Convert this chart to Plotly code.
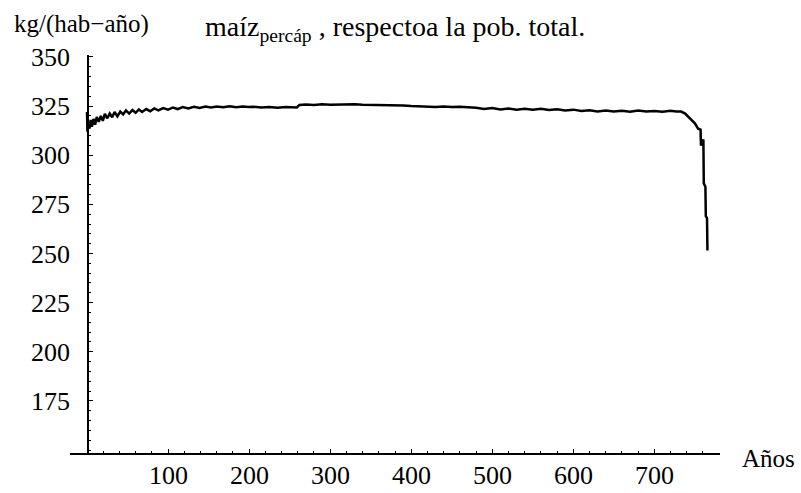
import plotly.graph_objects as go

# Data (year, kg per inhabitant per year)
years_early = [0, 0.5, 1.5, 3, 4.5, 6, 8, 10, 12, 14.5, 17, 19.5, 22, 25, 28, 31, 34, 37.5, 41, 44.5,
               48, 52, 56, 60, 64, 68, 73, 78, 83, 88, 94, 100, 106, 112, 118, 125, 132, 139, 146, 153,
               160, 168, 176, 184, 192, 200]
values_early = [322, 312, 317, 313.5, 318, 314.5, 318.5, 315.5, 319.5, 317, 320, 317.5, 321, 318.8, 321.2, 319.3, 322, 319.8, 322.2, 320.8,
                322.8, 321.2, 323, 321.6, 323.3, 322, 323.5, 322.4, 323.8, 322.8, 324, 323.2, 324.3, 323.5, 324.5, 323.8, 324.6, 324.1, 324.8, 324.3,
                324.8, 324.4, 324.9, 324.4, 324.8, 324.5]

years_mid = [205, 215, 225, 235, 245, 255, 259, 262, 270, 280, 290, 300, 310, 320, 330, 340, 350, 360, 370, 380,
             390, 400, 410, 420, 430, 440, 450, 460, 470, 480, 490, 500, 510, 520, 530, 540, 550, 560, 570, 580,
             590, 600, 610, 620, 630, 640, 650, 660, 670, 680, 690, 700, 710, 720, 727]
values_mid = [324.7, 324.3, 324.6, 324.2, 324.5, 324.1, 324.3, 325.6, 325.8, 325.6, 325.9, 325.7, 325.8, 325.6, 325.9, 325.7, 325.6, 325.8, 325.5, 325.6,
              325.3, 325.0, 324.8, 324.9, 324.6, 324.8, 324.5, 324.7, 324.4, 324.2, 323.5, 324.0, 323.3, 323.8, 323.2, 323.7, 323.1, 323.6, 323.0, 323.4,
              322.8, 323.2, 322.5, 322.9, 322.3, 322.7, 322.2, 322.6, 322.1, 322.8, 322.3, 322.5, 322.1, 322.6, 322.3]

years_end = [733, 738, 744, 750, 754, 757, 757.5, 760.5, 761, 763, 763.5, 765, 765.5]
values_end = [322.2, 321.2, 318.6, 316.2, 313.5, 313, 305, 308, 285.7, 284, 269, 268, 251.5]

x_ticks = [100, 200, 300, 400, 500, 600, 700]
x_tick_labels = ["100", "200", "300", "400", "500", "600", "700"]
y_ticks = [175, 200, 225, 250, 275, 300, 325, 350]

years = years_early + years_mid + years_end
values = values_early + values_mid + values_end

FONT = "Liberation Serif, Times New Roman, serif"

fig = go.Figure()
fig.add_trace(go.Scatter(x=years, y=values, mode="lines",
                         line=dict(color="black", width=2.5), showlegend=False,
                         hoverinfo="skip"))

annotations = [
    dict(text="kg/(hab\u2212año)", xref="paper", yref="paper",
         x=-58 / 650, y=1 + 31 / 398, xanchor="left", yanchor="middle",
         showarrow=False, font=dict(family=FONT, size=25, color="black")),
    dict(text="maíz<sub>percáp</sub> , respectoa la pob. total.", xref="paper", yref="paper",
         x=133 / 650, y=1 + 27 / 398, xanchor="left", yanchor="middle",
         showarrow=False, font=dict(family=FONT, size=28, color="black")),
    dict(text="Años", xref="paper", yref="paper",
         x=1 + 20 / 650, y=-5 / 398, xanchor="left", yanchor="middle",
         showarrow=False, font=dict(family=FONT, size=25, color="black")),
]
# x tick labels placed on the x axis scale
for v, lab in zip(x_ticks, x_tick_labels):
    annotations.append(dict(text=lab, x=v, xref="x", y=0, yref="paper",
                            xanchor="center", yanchor="middle", yshift=-22,
                            showarrow=False, font=dict(family=FONT, size=26, color="black")))

fig.update_layout(
    width=801, height=493,
    margin=dict(l=70, r=81, t=55, b=40),
    paper_bgcolor="white", plot_bgcolor="white",
    font=dict(family=FONT, color="black"),
    xaxis=dict(range=[-21, 781], showgrid=False, zeroline=False, automargin=False,
               showline=True, linecolor="black", linewidth=1.5,
               tickmode="array", tickvals=x_ticks, ticks="inside", ticklen=4,
               tickcolor="black", tickwidth=1.2, showticklabels=False,
               minor=dict(tick0=0, dtick=20, ticks="inside", ticklen=2, tickcolor="black")),
    yaxis=dict(range=[148.5, 351], showgrid=False, zeroline=False, automargin=False,
               anchor="free", position=18 / 650,
               showline=True, linecolor="black", linewidth=1.5,
               tickmode="array", tickvals=y_ticks, ticks="inside", ticklen=4,
               tickcolor="black", tickwidth=1.2,
               minor=dict(tick0=0, dtick=5, ticks="inside", ticklen=2, tickcolor="black"),
               ticklabelstandoff=12,
               tickfont=dict(family=FONT, size=26, color="black")),
    annotations=annotations,
)

fig.write_html("out.html")
